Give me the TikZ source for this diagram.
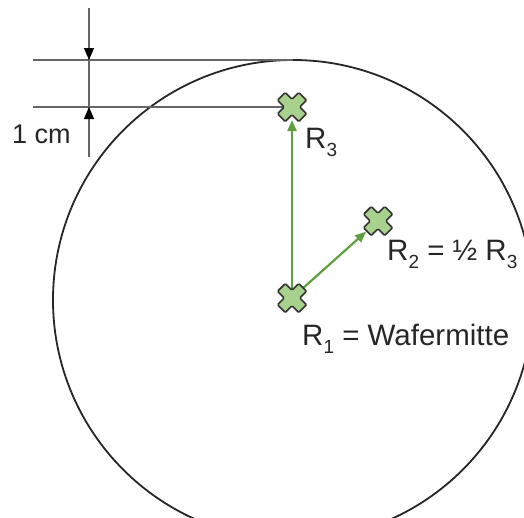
\documentclass[tikz,border=0pt]{standalone}
\usepackage{fontspec}
\setmainfont{Liberation Sans}
\usetikzlibrary{arrows.meta}
\definecolor{xfill}{HTML}{A9D18E}
\definecolor{xline}{HTML}{333333}
\definecolor{arrgreen}{HTML}{5E9E3E}
\definecolor{dimgray}{HTML}{666666}
\tikzset{
  waferline/.style={draw=black!85, line width=1.8pt},
  dimline/.style={draw=dimgray, line width=1.3pt},
  dimarrow/.style={dimline, -{Triangle[length=12pt,width=10pt,fill=black,color=black]}},
  vecarrow/.style={draw=arrgreen, line width=2.2pt, -{Triangle[length=11pt,width=9pt]}},
  lbl/.style={inner sep=0pt, anchor=base west, text=black!85, font=\fontsize{29.5}{34}\selectfont},
  wcross/.pic={
    \path[fill=xfill, draw=xline, line width=1.7pt, rounded corners=1.2pt, rotate=45]
      (5.5,5.5) -- (15,5.5) -- (15,-5.5) -- (5.5,-5.5) -- (5.5,-15) -- (-5.5,-15)
      -- (-5.5,-5.5) -- (-15,-5.5) -- (-15,5.5) -- (-5.5,5.5) -- (-5.5,15) -- (5.5,15) -- cycle;
  }
}
\newcommand\subidx[1]{\raisebox{-0.28em}{\fontsize{19}{20}\selectfont #1}}
\begin{document}
\begin{tikzpicture}[x=1pt,y=-1pt]
\useasboundingbox (0,0) rectangle (524,517);
\begin{scope}
  \clip (0,0) rectangle (524,517);
  \node[circle, waferline, minimum size=480pt, inner sep=0pt, outer sep=0pt] (wafer) at (293,300) {};
\end{scope}
% points
\coordinate (R1) at (292,298);
\coordinate (R2) at (378,221);
\coordinate (R3) at (292,107);
% dimension
\coordinate (dtop) at (89,8);
\coordinate (dbot) at (89,157);
\coordinate (h1) at (89,60);
\coordinate (h2) at (89,107);
\coordinate (l1) at (33,60);
\coordinate (l2) at (33,107);
\draw[dimline] (l1) -- (wafer.north);
\draw[dimline] (l2) -- (R3);
\draw[dimline] (dtop) -- (dbot);
\draw[dimarrow] (dtop) -- (h1);
\draw[dimarrow] (dbot) -- (h2);
% vectors
\draw[vecarrow, shorten >=13pt] (R1) -- (R3);
\draw[vecarrow, shorten >=16pt] (R1) -- (R2);
% crosses
\pic at (R1) {wcross};
\pic at (R2) {wcross};
\pic at (R3) {wcross};
% labels
\node[lbl, font=\fontsize{27}{31}\selectfont] (cm) at (12,143) {1 cm};
\node[lbl] (t3) at (305,148) {R\subidx{3}};
\node[lbl] (t2) at (387,260) {R\subidx{2} = ½ R\subidx{3}};
\node[lbl] (t1) at (302,345) {R\subidx{1} = Wafermitte};
\end{tikzpicture}
\end{document}
